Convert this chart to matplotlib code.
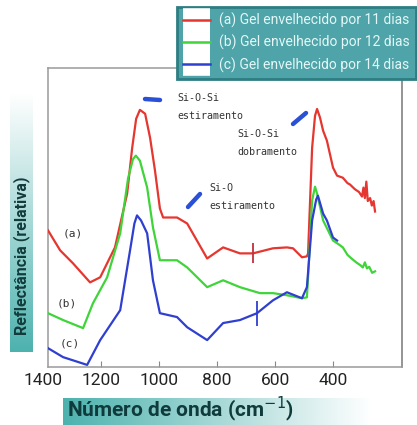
import matplotlib
matplotlib.use("Agg")
import matplotlib.pyplot as plt
import numpy as np
from matplotlib.lines import Line2D
from matplotlib.legend_handler import HandlerTuple
from matplotlib.colors import LinearSegmentedColormap

# ---------------- data (arbitrary reflectance units) ----------------
wn_a = [1383, 1341, 1297, 1238, 1203, 1152, 1110, 1093, 1079, 1066, 1048, 1031, 1014, 997,
        986, 938, 903, 834, 779, 721, 676, 607, 559, 538, 507, 490, 486, 472, 462, 455,
        445, 434, 421, 400, 386, 366, 350, 341, 325, 310, 300, 295, 290, 285, 280, 272,
        266, 260, 255]
refl_a = [45.7, 39.0, 34.7, 28.3, 30.0, 40.0, 58.0, 73.0, 83.0, 86.0, 84.7, 76.7, 65.7, 53.0,
          50.0, 50.0, 48.0, 36.3, 40.0, 38.0, 38.0, 39.7, 40.0, 39.7, 36.7, 37.0, 38.0, 73.3, 84.0, 86.3,
          83.5, 79.0, 75.7, 66.7, 64.0, 63.3, 61.5, 61.0, 59.5, 58.5, 57.0, 60.0, 56.5, 62.0, 55.5, 56.5,
          54.0, 55.5, 52.0]

wn_b = [1383, 1331, 1262, 1228, 1179, 1134, 1107, 1090, 1080, 1066, 1041, 1021, 997, 938,
        903, 834, 779, 721, 652, 607, 559, 507, 490, 486, 472, 462, 455, 434, 400, 380,
        366, 350, 341, 320, 305, 297, 290, 283, 275, 265, 255]
refl_b = [18.0, 15.7, 13.0, 21.3, 30.0, 44.7, 63.0, 69.5, 70.7, 69.0, 60.0, 46.7, 35.7, 35.7,
          33.3, 26.7, 29.0, 26.7, 24.7, 24.7, 24.0, 23.0, 23.3, 30.0, 55.7, 60.3, 58.0, 49.0, 42.3, 41.0,
          40.0, 37.5, 36.7, 35.0, 34.0, 33.3, 35.0, 33.0, 33.5, 31.5, 32.0]

wn_c = [1383, 1331, 1248, 1203, 1134, 1100, 1085, 1076, 1062, 1041, 1021, 997, 938, 903,
        834, 779, 721, 662, 607, 559, 507, 490, 472, 458, 452, 434, 421, 400, 386]
refl_c = [6.3, 3.3, 0.7, 9.0, 19.0, 39.0, 48.0, 50.7, 49.0, 44.7, 29.0, 18.0, 16.7, 13.3,
          9.0, 14.7, 15.7, 18.0, 22.3, 25.0, 23.0, 26.7, 49.0, 56.0, 57.3, 51.3, 49.0, 43.3, 42.3]

# small vertical marks seen on curves (a) and (c)
mark_wn = [676, 662]
mark_refl = [38.0, 18.0]

tick_values = [1400, 1200, 1000, 800, 600, 400]
series_labels = ["(a) Gel envelhecido por 11 dias",
                 "(b) Gel envelhecido por 12 dias",
                 "(c) Gel envelhecido por 14 dias"]
curve_tags = ["(a)", "(b)", "(c)"]

RED, GREEN, BLUE = "#e5362f", "#3fd43a", "#2f3fd0"
FONT = ["Roboto", "DejaVu Sans"]

fig = plt.figure(figsize=(4.17, 4.25), dpi=100)
fig.patch.set_facecolor("white")

W, H = 417.0, 425.0
def fx(px): return px / W
def fy(py): return 1 - py / H

# gradient label boxes (drawn first, behind everything)
cmap_teal = LinearSegmentedColormap.from_list("teal", ["#4db2ae", "#ffffff"])
xl_ax = fig.add_axes([fx(63), 0, fx(372) - fx(63), fy(398)])
xl_ax.imshow(np.linspace(0, 1, 256)[None, :], aspect="auto", cmap=cmap_teal,
             extent=[0, 1, 0, 1])
xl_ax.axis("off")

yl_ax = fig.add_axes([fx(10), fy(352), fx(33) - fx(10), fy(93) - fy(352)])
yl_ax.imshow(np.linspace(0, 1, 256)[:, None], aspect="auto", cmap=cmap_teal,
             extent=[0, 1, 0, 1], origin="lower")
yl_ax.axis("off")

ax = fig.add_axes([fx(48), fy(367), fx(402) - fx(48), fy(68) - fy(367)])
ax.plot(wn_a, refl_a, color=RED, lw=1.6, zorder=3)
ax.plot(wn_b, refl_b, color=GREEN, lw=1.6, zorder=3)
ax.plot(wn_c, refl_c, color=BLUE, lw=1.6, zorder=4)
ax.plot(mark_wn[:1], mark_refl[:1], linestyle="none", marker="|", markersize=15,
        markeredgewidth=1.3, color="#c03040", zorder=5)
ax.plot(mark_wn[1:], mark_refl[1:], linestyle="none", marker="|", markersize=18,
        markeredgewidth=1.3, color=BLUE, zorder=5)

ax.set_xlim(1383, 162)
ax.set_ylim(0, 100)
ax.set_yticks([])
ax.set_xticks(tick_values[1:])
ax.set_xticklabels([str(v) for v in tick_values[1:]], family=FONT, fontsize=12.5, color="#222222")
ax.tick_params(axis="x", direction="in", length=4, color="#888888", pad=4)
ax.text(tick_values[0], -2.0, str(tick_values[0]), transform=ax.transData,
        ha="center", va="top", family=FONT, fontsize=12.5, color="#222222")
for name, sp in ax.spines.items():
    sp.set_color("#9a9a9a")
    sp.set_linewidth(1.1)
ax.spines["right"].set_color("#777777")

# annotations
ann_kw = dict(family="DejaVu Sans Mono", fontsize=7.2, color="#333333", transform=ax.transAxes,
              linespacing=1.9)
def ax_xy(px, py):
    return ((px - 48) / (402 - 48), (367 - py) / (367 - 68))

ax.text(*ax_xy(177, 107), "Si-O-Si\nestiramento", va="center", ha="left", **ann_kw)
ax.text(*ax_xy(237, 143), "Si-O-Si\ndobramento", va="center", ha="left", **ann_kw)
ax.text(*ax_xy(209, 197), "Si-O\nestiramento", va="center", ha="left", **ann_kw)

# short blue arrows / dashes
for (x0, y0, x1, y1) in [(145, 99, 160, 100), (293, 124, 306, 113), (188, 207, 200, 194)]:
    ax.plot([ax_xy(x0, y0)[0], ax_xy(x1, y1)[0]], [ax_xy(x0, y0)[1], ax_xy(x1, y1)[1]],
            transform=ax.transAxes, color="#2a50d8", lw=3.2, solid_capstyle="round", zorder=6)

tag_pos = [(73, 234), (67, 303), (70, 343)]
for tag, (px, py) in zip(curve_tags, tag_pos):
    ax.text(*ax_xy(px, py), tag, ha="center", va="center", family="DejaVu Sans Mono",
            fontsize=8, color="#333333", transform=ax.transAxes)

# legend
handles = []
for c in (RED, GREEN, BLUE):
    bg = Line2D([], [], color="white", lw=17, solid_capstyle="butt")
    ln = Line2D([], [], color=c, lw=1.8)
    handles.append((bg, ln))
leg = fig.legend(handles, series_labels, handler_map={tuple: HandlerTuple(ndivide=1)},
                 loc="upper right", bbox_to_anchor=(fx(416), fy(7)), borderaxespad=0,
                 prop={"family": FONT, "size": 10}, labelcolor="#e4f7f7",
                 handlelength=1.9, handletextpad=0.7, labelspacing=0.5, borderpad=0.42,
                 fancybox=False, framealpha=1.0, facecolor="#4ea4a8", edgecolor="#2d7d82")
leg.get_frame().set_linewidth(2.0)

fig.text(fx(67), fy(417), "Número de onda (cm$^{-1}$)", ha="left", va="baseline",
         family=FONT, fontweight="bold", fontsize=15, color="#0f3b3c")
fig.text(fx(22), fy(256), "Reflectância (relativa)", rotation=90, ha="center", va="center",
         family=FONT, fontweight="bold", fontsize=11.5, color="#123c3c")

fig.savefig("out.png", dpi=100)
